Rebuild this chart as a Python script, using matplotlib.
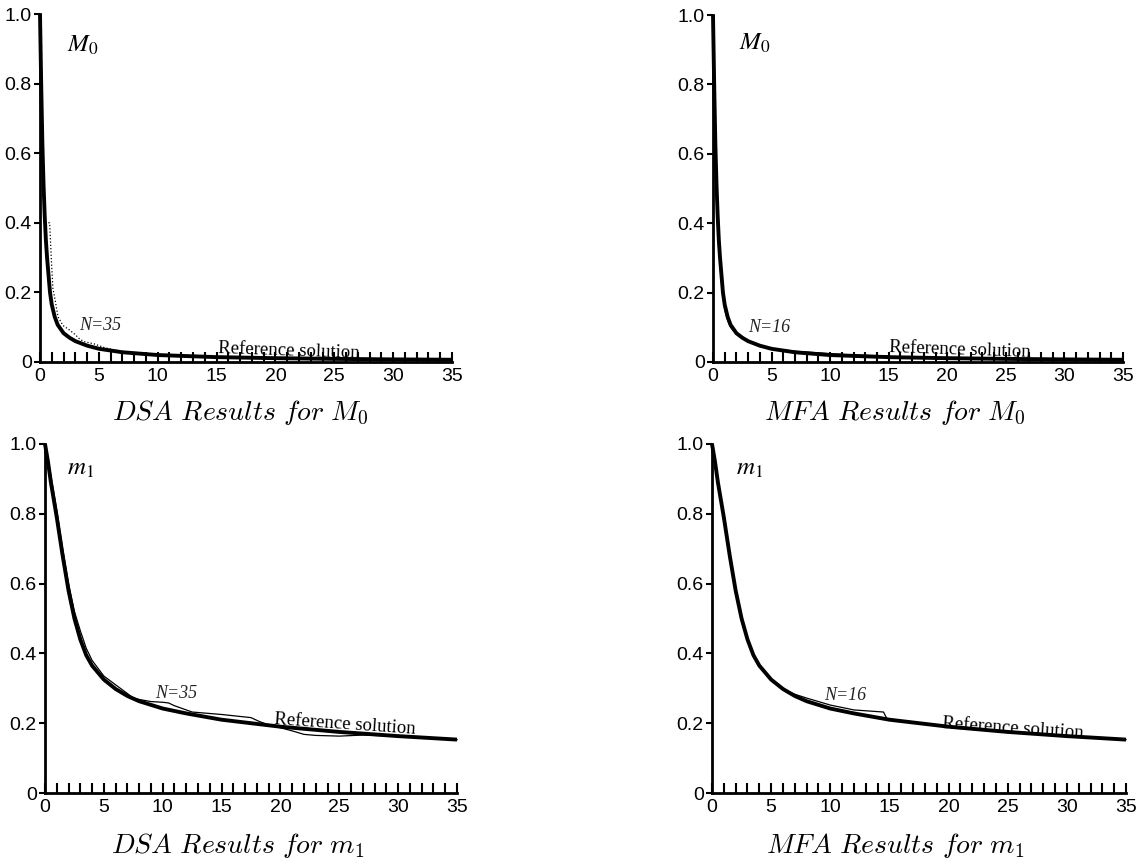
import matplotlib
matplotlib.use("Agg")
import matplotlib.pyplot as plt

# ---------------- data ----------------
# Reference solution for M0 (total number density)
ref_M0_t = [0, 0.05, 0.1, 0.2, 0.3, 0.4, 0.5, 0.6, 0.75, 0.85, 1.0, 1.25, 1.5, 2.0, 2.5, 3.0, 4.0, 5.0, 7.0, 10.0, 15.0, 20.0, 25.0, 30.0, 35.0]
ref_M0 = [1.0, 0.9, 0.8, 0.63, 0.51, 0.42, 0.35, 0.3, 0.24, 0.2, 0.165, 0.13, 0.107, 0.083, 0.07, 0.06, 0.047, 0.038, 0.028, 0.02, 0.014, 0.011, 0.009, 0.0075, 0.0065]

# DSA, N=35, M0
dsa_M0_t = [0, 0.05, 0.1, 0.2, 0.3, 0.45, 0.82, 0.9, 1.0, 1.1, 1.3, 1.53, 1.95, 2.5, 2.95, 3.4, 3.8, 4.6, 5.5, 7.0, 10.0, 15.0, 20.0, 25.0, 30.0, 35.0]
dsa_M0 = [1.0, 0.9, 0.8, 0.64, 0.53, 0.40, 0.40, 0.34, 0.27, 0.21, 0.175, 0.13, 0.105, 0.092, 0.08, 0.065, 0.058, 0.052, 0.041, 0.029, 0.02, 0.014, 0.011, 0.009, 0.0075, 0.0065]

# MFA, N=16, M0
mfa_M0_t = [0, 0.05, 0.1, 0.2, 0.3, 0.4, 0.5, 0.6, 0.75, 1.0, 1.25, 1.5, 2.0, 2.5, 3.0, 4.0, 5.0, 7.0, 10.0, 12.0, 15.0, 15.5, 20.0, 25.0, 30.0, 35.0]
mfa_M0 = [1.0, 0.9, 0.8, 0.63, 0.51, 0.42, 0.34, 0.28, 0.22, 0.15, 0.12, 0.1, 0.08, 0.07, 0.06, 0.047, 0.038, 0.031, 0.024, 0.02, 0.017, 0.013, 0.011, 0.009, 0.0075, 0.0065]

# Reference solution for m1
ref_m1_t = [0, 0.25, 0.5, 0.75, 1, 1.5, 2, 2.5, 3, 3.5, 4, 5, 6, 7, 8, 10, 12, 15, 20, 25, 30, 35]
ref_m1 = [1.0, 0.95, 0.89, 0.84, 0.79, 0.68, 0.58, 0.50, 0.44, 0.395, 0.365, 0.325, 0.298, 0.278, 0.263, 0.242, 0.228, 0.21, 0.19, 0.175, 0.163, 0.153]

# DSA, N=35, m1
dsa_m1_t = [0, 0.5, 1, 1.5, 2, 2.5, 3, 3.5, 4, 5, 6, 7, 7.5, 8, 9, 10, 10.5, 11, 12, 12.5, 15, 17.5, 18.2, 19, 20, 21, 22, 23, 25, 27, 30, 35]
dsa_m1 = [1.0, 0.91, 0.81, 0.70, 0.60, 0.52, 0.465, 0.415, 0.38, 0.335, 0.31, 0.285, 0.272, 0.268, 0.262, 0.26, 0.258, 0.25, 0.238, 0.232, 0.225, 0.216, 0.205, 0.195, 0.187, 0.178, 0.168, 0.165, 0.163, 0.166, 0.163, 0.153]

# MFA, N=16, m1
mfa_m1_t = [0, 0.25, 0.5, 0.75, 1, 1.5, 2, 2.5, 3, 3.5, 4, 5, 6, 7, 8, 10, 12, 14.5, 14.8, 15, 20, 25, 30, 35]
mfa_m1 = [1.0, 0.95, 0.89, 0.84, 0.79, 0.68, 0.58, 0.50, 0.44, 0.395, 0.365, 0.325, 0.298, 0.283, 0.272, 0.252, 0.238, 0.232, 0.212, 0.21, 0.19, 0.175, 0.163, 0.153]

x_ticks = [0, 5, 10, 15, 20, 25, 30, 35]
y_ticks = [0, 0.2, 0.4, 0.6, 0.8, 1.0]
y_ticklabels = ["0", "0.2", "0.4", "0.6", "0.8", "1.0"]

titles = [r"$DSA\ Results\ for\ M_0$", r"$MFA\ Results\ for\ M_0$",
          r"$DSA\ Results\ for\ m_1$", r"$MFA\ Results\ for\ m_1$"]
var_labels = [r"$M_{\mathit{0}}$", r"$M_{\mathit{0}}$", r"$m_{\mathit{1}}$", r"$m_{\mathit{1}}$"]
n_labels = ["N=35", "N=16", "N=35", "N=16"]

# ---------------- figure ----------------
W, H = 1143, 867
fig = plt.figure(figsize=(W / 100, H / 100), dpi=100)

def rect(l, r, t, b):
    return [l / W, 1 - b / H, (r - l) / W, (b - t) / H]

ax_rects = [rect(40, 452, 14, 362), rect(713, 1123, 15, 362),
            rect(45, 457, 444, 793), rect(712, 1126, 444, 793)]

series = [
    (ref_M0_t, ref_M0, dsa_M0_t, dsa_M0, ":"),
    (ref_M0_t, ref_M0, mfa_M0_t, mfa_M0, "-"),
    (ref_m1_t, ref_m1, dsa_m1_t, dsa_m1, "-"),
    (ref_m1_t, ref_m1, mfa_m1_t, mfa_m1, "-"),
]

var_pos = [(2.3, 0.91), (2.2, 0.92), (1.9, 0.93), (2.0, 0.93)]
n_pos = [(3.3, 0.105), (3.0, 0.098), (9.35, 0.284), (9.5, 0.28)]
ref_pos = [(15.1, 0.04, -2), (15.0, 0.043, -2), (19.5, 0.21, -4), (19.5, 0.20, -4)]
title_pos = [(240, 413), (895, 413), (238, 845), (895, 845)]

serif = "Liberation Serif"
sans = "Liberation Sans"

for i, r in enumerate(ax_rects):
    ax = fig.add_axes(r)
    rt, rv, nt, nv, ls = series[i]
    ax.plot(nt, nv, color="black", lw=0.9, ls=ls, zorder=2, clip_on=False)
    ax.plot(rt, rv, color="black", lw=2.8, zorder=3, clip_on=False, solid_capstyle="butt")
    ax.set_xlim(0, 35)
    ax.set_ylim(0, 1.0)
    for s in ("top", "right"):
        ax.spines[s].set_visible(False)
    for s in ("left", "bottom"):
        ax.spines[s].set_linewidth(2.0)
    ax.set_xticks(x_ticks)
    ax.set_xticks(list(range(0, 36)), minor=True)
    ax.set_yticks(y_ticks)
    ax.set_yticklabels(y_ticklabels)
    ax.tick_params(axis="x", which="both", direction="in", length=7, width=1.5, pad=4)
    ax.tick_params(axis="y", which="both", direction="out", length=4, width=1.5, pad=2)
    for lab in ax.get_xticklabels() + ax.get_yticklabels():
        lab.set_fontfamily(sans)
        lab.set_fontsize(14)
    ax.text(*var_pos[i], var_labels[i], fontsize=18, math_fontfamily="stix",
            ha="left", va="center")
    ax.text(*n_pos[i], n_labels[i], fontsize=13, family=serif, style="italic",
            ha="left", va="center", color="#222222")
    x, y, rot = ref_pos[i]
    ax.text(x, y, "Reference solution", fontsize=13.5, family=serif,
            ha="left", va="center", rotation=rot, rotation_mode="anchor")
    tx, ty = title_pos[i]
    fig.text(tx / W, 1 - ty / H, titles[i], fontsize=20, math_fontfamily="cm",
             ha="center", va="center")

fig.savefig("out.png", dpi=100)
